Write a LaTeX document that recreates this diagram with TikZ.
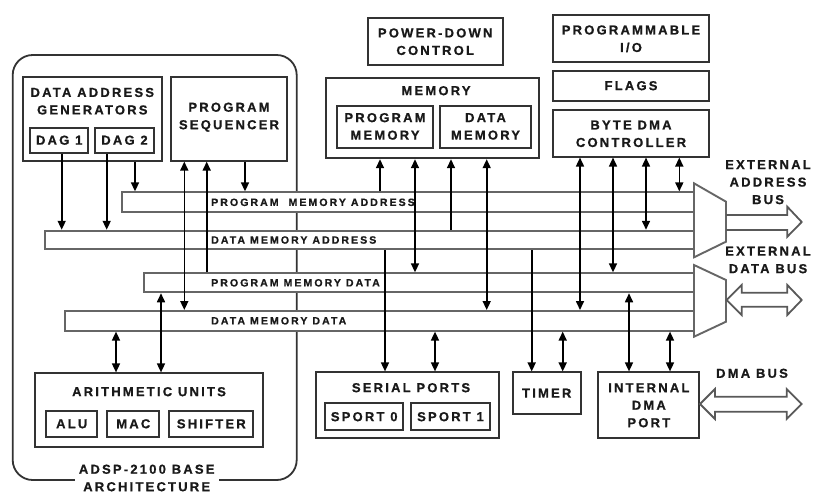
\documentclass[tikz,border=0pt]{standalone}
\usepackage{fontspec}
\setmainfont{Liberation Sans}
\newfontfamily\boxfont{Liberation Sans}[LetterSpace=17, BoldFeatures={FakeBold=0.8}]
\newfontfamily\busfont{Liberation Sans}[LetterSpace=19, BoldFeatures={FakeBold=0.6}]
\usetikzlibrary{arrows.meta}
\tikzset{
  box/.style={draw=black!80, line width=1.8pt, fill=white, inner sep=0pt},
  basebox/.style={draw=black!80, line width=1.8pt, rounded corners=20pt},
  bus/.style={draw=black!60, line width=1.9pt, fill=white, inner sep=0pt},
  mux/.style={draw=black!60, line width=1.9pt, fill=white},
  bigarrow/.style={draw=black!65, line width=1.8pt, fill=white},
  txt/.style={font=\boxfont\bfseries\fontsize{13}{17.5}\selectfont, align=center, text=black!90, inner sep=0pt},
  buslbl/.style={font=\busfont\bfseries\fontsize{10.6}{12}\selectfont, anchor=west, text=black!90, inner sep=0pt},
  conn/.style={line width=1.6pt, draw=black},
  aone/.style={conn, -{Triangle[length=9pt,width=8pt]}},
  atwo/.style={conn, {Triangle[length=9pt,width=8pt]}-{Triangle[length=9pt,width=8pt]}},
}
\begin{document}
\begin{tikzpicture}[x=1pt,y=-1pt]
\useasboundingbox (0,0) rectangle (814,496);
% x positions of connectors
\coordinate (xa) at (61.7,0);
\coordinate (xb) at (106.7,0);
\coordinate (xc) at (135,0);
\coordinate (xd) at (184.3,0);
\coordinate (xe) at (206.7,0);
\coordinate (xf) at (245,0);
\coordinate (xg) at (116,0);
\coordinate (xh) at (161,0);
\coordinate (xi) at (380,0);
\coordinate (xj) at (415,0);
\coordinate (xk) at (451,0);
\coordinate (xl) at (486.7,0);
\coordinate (xm) at (385,0);
\coordinate (xn) at (435,0);
\coordinate (xo) at (531.7,0);
\coordinate (xp) at (562.7,0);
\coordinate (xq) at (580,0);
\coordinate (xr) at (613,0);
\coordinate (xs) at (646,0);
\coordinate (xt) at (679.3,0);
\coordinate (xu) at (629,0);
\coordinate (xv) at (670,0);

% base architecture frame
\node[basebox, minimum width=284pt, minimum height=425pt] (base) at (154.7,267.5) {};

% boxes
\node[box, minimum width=139.6pt, minimum height=84pt] (dag) at (92.5,118.7) {};
\node[txt] (dagt) at (92.3,101.2) {DATA ADDRESS\\GENERATORS};
\node[box, minimum width=58.3pt, minimum height=25pt] (dag1) at (59.2,140.2) {};
\node[txt] (dag1t) at (59.2,140.2) {DAG 1};
\node[box, minimum width=59pt, minimum height=25pt] (dag2) at (124.5,140.2) {};
\node[txt] (dag2t) at (124.5,140.2) {DAG 2};
\node[box, minimum width=116.6pt, minimum height=84pt] (ps) at (229,118.7) {};
\node[txt] (pst) at (229,117.2) {PROGRAM\\SEQUENCER};

\node[box, minimum width=135pt, minimum height=46.7pt] (pdc) at (435.2,41.7) {};
\node[txt] (pdct) at (435.2,41.7) {POWER-DOWN\\CONTROL};
\node[box, minimum width=213.3pt, minimum height=80.6pt] (mem) at (432.7,118) {};
\node[txt] (memt) at (436,90.7) {MEMORY};
\node[box, minimum width=96.6pt, minimum height=42.3pt] (pmem) at (385,127.2) {};
\node[txt] (pmemt) at (385,126.4) {PROGRAM\\MEMORY};
\node[box, minimum width=91pt, minimum height=42.3pt] (dmem) at (485.5,127.2) {};
\node[txt] (dmemt) at (485.5,126.4) {DATA\\MEMORY};

\node[box, minimum width=156.6pt, minimum height=46.7pt] (pio) at (631,38.3) {};
\node[txt] (piot) at (631,38.8) {PROGRAMMABLE\\I/O};
\node[box, minimum width=156.6pt, minimum height=30pt] (flags) at (631,85.7) {};
\node[txt] (flagst) at (631,85.7) {FLAGS};
\node[box, minimum width=156.6pt, minimum height=46.7pt] (bdma) at (631,133.3) {};
\node[txt] (bdmat) at (631,133.8) {BYTE DMA\\CONTROLLER};

\node[box, minimum width=228.3pt, minimum height=73.4pt] (au) at (149.2,410) {};
\node[txt] (aut) at (149,391.7) {ARITHMETIC UNITS};
\node[box, minimum width=51.3pt, minimum height=25.7pt] (alu) at (71.7,423.8) {};
\node[txt] (alut) at (71.7,423.8) {ALU};
\node[box, minimum width=52pt, minimum height=25.7pt] (mac) at (133.3,423.8) {};
\node[txt] (mact) at (133.3,423.8) {MAC};
\node[box, minimum width=84pt, minimum height=25.7pt] (shf) at (211.3,423.8) {};
\node[txt] (shft) at (211.3,423.8) {SHIFTER};

\node[box, minimum width=183.3pt, minimum height=66pt] (ser) at (407.7,405.3) {};
\node[txt] (sert) at (411,387.7) {SERIAL PORTS};
\node[box, minimum width=78.3pt, minimum height=26.7pt] (sp0) at (364.2,416.7) {};
\node[txt] (sp0t) at (364.2,416.7) {SPORT 0};
\node[box, minimum width=79pt, minimum height=26.7pt] (sp1) at (450.5,416.7) {};
\node[txt] (sp1t) at (450.5,416.7) {SPORT 1};
\node[box, minimum width=68pt, minimum height=41.7pt] (tim) at (546.7,393.2) {};
\node[txt] (timt) at (546.7,393.2) {TIMER};
\node[box, minimum width=101pt, minimum height=66pt] (idma) at (648.8,405.3) {};
\node[txt] (idmat) at (648.8,405.3) {INTERNAL\\DMA\\PORT};

% buses
\node[bus, minimum width=571.7pt, minimum height=20pt] (pma) at (408.2,202.3) {};
\node[bus, minimum width=649pt, minimum height=18.6pt] (dmab) at (369.5,240) {};
\node[bus, minimum width=550pt, minimum height=19pt] (pmd) at (419,282.8) {};
\node[bus, minimum width=629pt, minimum height=19.7pt] (dmd) at (379.5,320.8) {};
\node[buslbl] (pmal) at (211,202.3) {PROGRAM\ \ MEMORY ADDRESS};
\node[buslbl] (dmal) at (211,240) {DATA MEMORY ADDRESS};
\node[buslbl] (pmdl) at (211,282.8) {PROGRAM MEMORY DATA};
\node[buslbl] (dmdl) at (211,320.8) {DATA MEMORY DATA};

% multiplexers
\draw[mux] (694,183.3) -- (726,201.7) -- (726,241.7) -- (694,257.3) -- cycle;
\draw[mux] (694,265) -- (726,280) -- (726,321.7) -- (694,336.7) -- cycle;

% external buses
\draw[bigarrow, fill=none] (726,215) -- (787.3,215) -- (787.3,206.7) -- (801.7,222) -- (787.3,236.7) -- (787.3,230) -- (726,230);
\draw[bigarrow] (726.7,300) -- (741.7,285) -- (741.7,292.7) -- (787.3,292.7) -- (787.3,285) -- (801.7,300) -- (787.3,315) -- (787.3,306.7) -- (741.7,306.7) -- (741.7,315) -- cycle;
\draw[bigarrow] (700,404) -- (715,389) -- (715,396.7) -- (786.7,396.7) -- (786.7,389) -- (801.7,404) -- (786.7,419) -- (786.7,411.7) -- (715,411.7) -- (715,419) -- cycle;
\node[txt] (eab) at (768,182.2) {EXTERNAL\\ADDRESS\\BUS};
\node[txt] (edb) at (768,260) {EXTERNAL\\DATA BUS};
\node[txt] (dmabus) at (752,373.3) {DMA BUS};

% connectors
\draw[aone] (dag1.south -| xa) -- (dmab.north -| xa);
\draw[aone] (dag2.south -| xb) -- (dmab.north -| xb);
\draw[aone] (dag.south -| xc) -- (pma.north -| xc);
\draw[atwo] (ps.south -| xd) -- (dmd.north -| xd);
\draw[aone] (pmd.north -| xe) -- (ps.south -| xe);
\draw[aone] (ps.south -| xf) -- (pma.north -| xf);
\draw[atwo] (dmd.south -| xg) -- (au.north -| xg);
\draw[atwo] (pmd.south -| xh) -- (au.north -| xh);
\draw[aone] (pma.north -| xi) -- (mem.south -| xi);
\draw[atwo] (mem.south -| xj) -- (pmd.north -| xj);
\draw[aone] (dmab.north -| xk) -- (mem.south -| xk);
\draw[atwo] (mem.south -| xl) -- (dmd.north -| xl);
\draw[aone] (dmab.south -| xm) -- (ser.north -| xm);
\draw[atwo] (dmd.south -| xn) -- (ser.north -| xn);
\draw[aone] (dmab.south -| xo) -- (tim.north -| xo);
\draw[atwo] (dmd.south -| xp) -- (tim.north -| xp);
\draw[atwo] (bdma.south -| xq) -- (dmd.north -| xq);
\draw[atwo] (bdma.south -| xr) -- (pmd.north -| xr);
\draw[atwo] (bdma.south -| xs) -- (dmab.north -| xs);
\draw[atwo] (bdma.south -| xt) -- (pma.north -| xt);
\draw[atwo] (pmd.south -| xu) -- (idma.north -| xu);
\draw[atwo] (dmd.south -| xv) -- (idma.north -| xv);

% base label
\node[txt, fill=white, inner xsep=4pt, inner ysep=1pt] (baset) at (146.7,478) {ADSP-2100 BASE\\ARCHITECTURE};
\end{tikzpicture}
\end{document}
